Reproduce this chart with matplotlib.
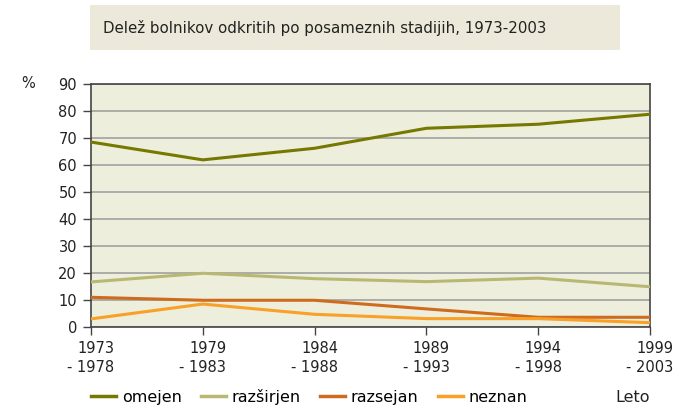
import matplotlib
matplotlib.use("Agg")
import matplotlib.pyplot as plt
from matplotlib.patches import Rectangle
from matplotlib.lines import Line2D

plt.rcParams['font.family'] = ['DejaVu Sans']

periods = ["1973\n- 1978", "1979\n- 1983", "1984\n- 1988", "1989\n- 1993", "1994\n- 1998", "1999\n- 2003"]
omejen = [68.5, 61.9, 66.2, 73.6, 75.1, 78.8]
razsirjen = [16.7, 19.9, 17.9, 16.8, 18.1, 14.9]
razsejan = [11.0, 9.9, 9.9, 6.7, 3.6, 3.6]
neznan = [3.0, 8.5, 4.7, 3.1, 3.1, 1.6]
series_names = ["omejen", "razširjen", "razsejan", "neznan"]
colors = ["#767800", "#b9b872", "#cf6b1f", "#f8a028"]
title = "Delež bolnikov odkritih po posameznih stadijih, 1973-2003"
yticks = [0, 10, 20, 30, 40, 50, 60, 70, 80, 90]

fig = plt.figure(figsize=(6.76, 4.16), dpi=100)
fig.patch.set_facecolor("white")

# title box
fig.patches.append(Rectangle((90/676, 1-50/416), 530/676, 45/416, transform=fig.transFigure,
                             facecolor="#ece9da", edgecolor="none", zorder=0))
fig.text(103/676, 1-28/416, title, fontsize=10.8, color="#222222", va="center", ha="left")

ax = fig.add_axes([91/676, 1-327/416, (650-91)/676, (327-84)/416])
ax.set_facecolor("#eeeedd")
x = list(range(len(periods)))
data = [omejen, razsirjen, razsejan, neznan]
for vals, c, n in zip(data, colors, series_names):
    ax.plot(x, vals, color=c, lw=2.2, label=n, zorder=3, solid_capstyle="butt")

ax.set_xlim(0, len(periods) - 1)
ax.set_ylim(0, 90)
ax.set_yticks(yticks)
ax.set_yticklabels([str(v) for v in yticks])
ax.set_xticks(x)
ax.set_xticklabels(periods, multialignment="right", linespacing=1.35)
ax.grid(axis="y", color="#9a9a9a", lw=1.1, zorder=1)
ax.grid(axis="x", visible=False)
for s in ["top", "right", "left", "bottom"]:
    ax.spines[s].set_color("#444444")
    ax.spines[s].set_linewidth(1.2)
ax.tick_params(axis="both", colors="#444444", labelcolor="#222222", labelsize=10.5, length=6, width=1)
ax.tick_params(axis="x", pad=4)
ax.tick_params(axis="y", pad=4)

fig.text(28/676, 1-84/416, "%", fontsize=10.5, color="#222222", ha="center", va="center")
fig.text(650/676, 1-397/416, "Leto", fontsize=11.5, color="#222222", ha="right", va="center")

handles = [Line2D([0], [0], color=c, lw=2.5) for c in colors]
fig.legend(handles, series_names, loc="center left", bbox_to_anchor=(91/676, 1-397/416),
           ncol=4, frameon=False, fontsize=11.5, handlelength=1.56, handletextpad=0.37,
           columnspacing=1.2, borderaxespad=0, borderpad=0)

fig.savefig("out.png", dpi=100)
